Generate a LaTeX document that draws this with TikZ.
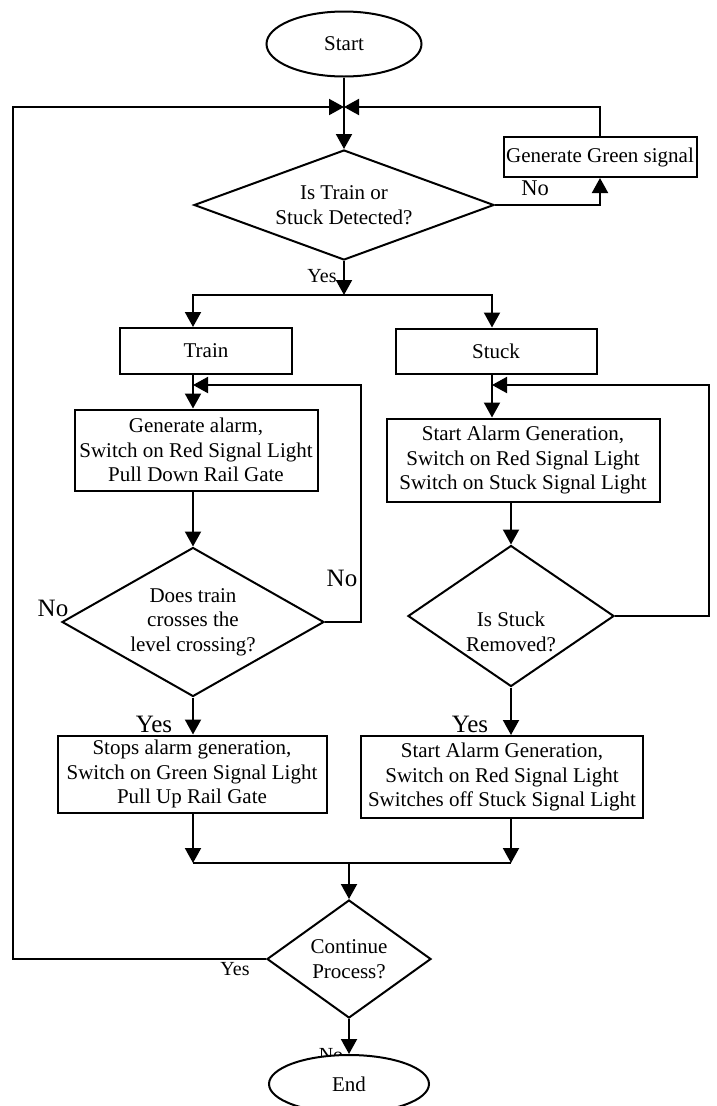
\documentclass[tikz,border=0pt]{standalone}
\usepackage{fontspec}
\setmainfont{Liberation Serif}
\usetikzlibrary{shapes.geometric,arrows.meta,positioning}

\begin{document}
\begin{tikzpicture}[
                    x=1pt, y=-1pt,
                    >={Triangle[length=15pt,width=16pt]},
                    line width=2pt,
                    font=\fontsize{21}{24.5}\selectfont,
                    box/.style={draw, rectangle, align=center, inner sep=2pt},
                    decision/.style={draw, diamond, align=center, inner sep=0pt},
                    terminal/.style={draw, ellipse, fill=white},
                    smalllbl/.style={font=\fontsize{20}{20}\selectfont, inner sep=0pt},
                    midlbl/.style={font=\fontsize{22.5}{22.5}\selectfont, inner sep=0pt},
                    biglbl/.style={font=\fontsize{25}{25}\selectfont, inner sep=0pt}
                    ]

                    \useasboundingbox (0,0) rectangle (717,1106);

                    \node [terminal, minimum width=155pt, minimum height=65pt] (start) at (344,44) {Start};
                    \node [coordinate] (j1) at (344,107) {};
                    \node [decision, aspect=2.727, minimum width=300pt, minimum height=110pt] (dec1) at (344,205) {Is Train or\\Stuck Detected?};
                    \node [box, minimum width=193pt, minimum height=40pt] (green) at (600,157) {Generate Green signal};

                    \node [coordinate] (split) at (344,295) {};
                    \node [coordinate] (colL) at (193,0) {};
                    \node [coordinate] (colR) at (492,0) {};

                    \node [box, minimum width=172pt, minimum height=46pt] (train) at (206,351) {Train};
                    \node [box, minimum width=201pt, minimum height=45pt] (stuck) at (496,351) {Stuck};

                    \node [coordinate] (loopL) at (193,385) {};
                    \node [coordinate] (loopR) at (492,385) {};
                    \node [coordinate] (retL) at (361,385) {};
                    \node [coordinate] (retR) at (709,385) {};

                    \node [box, minimum width=243pt, minimum height=81pt] (alarmL) at (196,450) {Generate alarm,\\Switch on Red Signal Light\\Pull Down Rail Gate};
                    \node [box, minimum width=273pt, minimum height=83pt] (alarmR) at (523,460) {Start Alarm Generation,\\Switch on Red Signal Light\\Switch on Stuck Signal Light};

                    \node [decision, aspect=1.758, minimum width=262pt, minimum height=149pt] (dec2) at (193,622) {Does train\\crosses the\\level crossing?};
                    \node [decision, aspect=1.46, minimum width=206pt, minimum height=141pt,
                           label={[align=center, yshift=-16pt]center:Is Stuck\\Removed?}] (dec3) at (511,616) {};

                    \node [box, minimum width=269pt, minimum height=77pt] (gateup) at (192,774) {Stops alarm generation,\\Switch on Green Signal Light\\Pull Up Rail Gate};
                    \node [box, minimum width=282pt, minimum height=82pt] (clear) at (502,777) {Start Alarm Generation,\\Switch on Red Signal Light\\Switches off Stuck Signal Light};

                    \node [coordinate] (merge) at (349,863) {};
                    \node [decision, aspect=1.39, minimum width=164pt, minimum height=118pt] (dec4) at (349,959) {Continue\\Process?};
                    \node [coordinate] (cornerB) at (13,959) {};
                    \node [coordinate] (cornerT) at (13,107) {};

                    % labels
                    \node [smalllbl] (yes1) at (322,276) {Yes};
                    \node [midlbl] (no1) at (535,188) {No};
                    \node [biglbl] (no2) at (342,578) {No};
                    \node [biglbl] (no3) at (53,608) {No};
                    \node [biglbl] (yes2) at (154,724) {Yes};
                    \node [biglbl] (yes3) at (470,724) {Yes};
                    \node [smalllbl] (yes4) at (235,969) {Yes};
                    \node [smalllbl] (no4) at (331,1055) {No};

                    \node [terminal, minimum width=160pt, minimum height=58pt] (endn) at (349,1084) {End};

                    \draw (start) -- (j1);
                    \draw[->] (j1) -- (dec1);
                    \draw[->] (dec1.east) -| (green.south);
                    \draw[->] (green.north) |- (j1);
                    \draw[->] (dec4.west) -- (cornerB) -- (cornerT) -- (j1);

                    \draw[->] (dec1.south) -- (split);
                    \draw[->] (split) -| (train.north -| colL);
                    \draw[->] (split) -| (stuck.north -| colR);

                    \draw[->] (train.south -| colL) -- (alarmL.north -| colL);
                    \draw[->] (alarmL.south -| colL) -- (dec2.north);
                    \draw[->] (dec2.east) -| (retL) -- (loopL);
                    \draw[->] (dec2.south) -- (dec2.south |- gateup.north);

                    \draw[->] (stuck.south -| colR) -- (alarmR.north -| colR);
                    \draw[->] (alarmR.south -| dec3.north) -- (dec3.north);
                    \draw[->] (dec3.east) -| (retR) -- (loopR);
                    \draw[->] (dec3.south) -- (dec3.south |- clear.north);

                    \draw[->] (gateup.south -| colL) -- (colL |- merge);
                    \draw[->] (clear.south -| dec3.south) -- (dec3.south |- merge);
                    \draw (colL |- merge) -- (dec3.south |- merge);
                    \draw[->] (merge) -- (dec4.north);
                    \draw[->] (dec4.south) -- (endn.north);

                \end{tikzpicture}
\end{document}
